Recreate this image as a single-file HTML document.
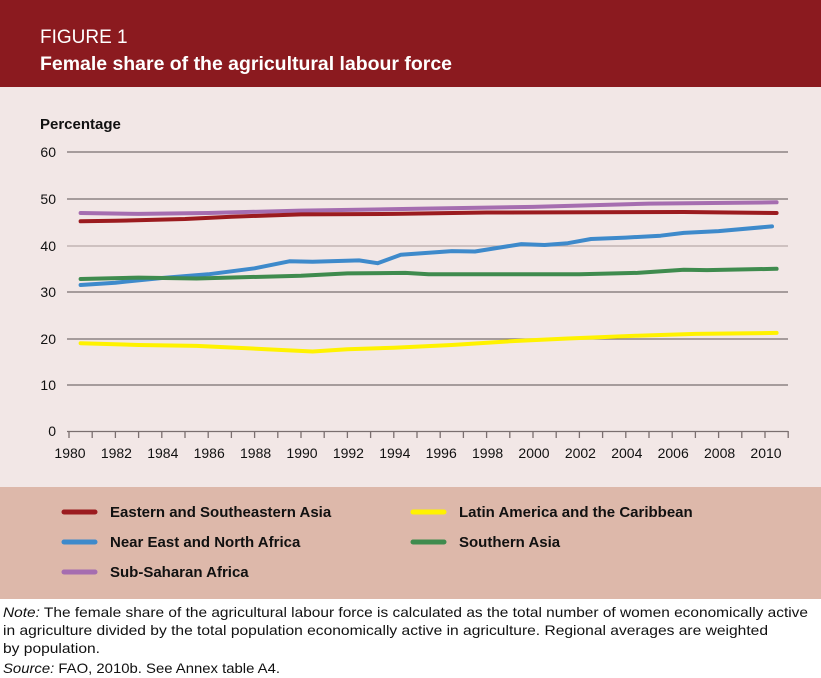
<!DOCTYPE html>
<html><head><meta charset="utf-8"><style>
html,body{margin:0;padding:0;background:#fff}
svg{display:block}
text{font-family:"Liberation Sans",sans-serif}
</style></head><body>
<svg width="821" height="678" viewBox="0 0 821 678" xmlns="http://www.w3.org/2000/svg">
<rect x="0" y="0" width="821" height="87" fill="#8B1A1F"/>
<rect x="0" y="87" width="821" height="400" fill="#F2E7E6"/>
<rect x="0" y="487" width="821" height="112" fill="#DDB8AA"/>
<text x="40" y="43" font-size="19" fill="#fff">FIGURE 1</text>
<text x="40" y="70" font-size="19" font-weight="bold" fill="#fff" textLength="412" lengthAdjust="spacingAndGlyphs">Female share of the agricultural labour force</text>
<text x="40" y="129" font-size="15" font-weight="bold" fill="#111">Percentage</text>
<g stroke="#7a6f6f" stroke-width="1.3">
<line x1="67" y1="152" x2="788" y2="152"/>
<line x1="67" y1="199" x2="788" y2="199"/>
<line x1="67" y1="246" x2="788" y2="246" stroke="#b8aaaa"/>
<line x1="67" y1="292" x2="788" y2="292"/>
<line x1="67" y1="339" x2="788" y2="339"/>
<line x1="67" y1="385" x2="788" y2="385"/>
<line x1="67" y1="431.5" x2="788" y2="431.5"/>
<path fill="none" d="M69 431v7m23.2-7v7m23.2-7v7m23.2-7v7m23.2-7v7m23.2-7v7m23.2-7v7m23.2-7v7m23.2-7v7m23.2-7v7m23.2-7v7m23.2-7v7m23.2-7v7m23.2-7v7m23.2-7v7m23.2-7v7m23.2-7v7m23.2-7v7m23.2-7v7m23.2-7v7m23.2-7v7m23.2-7v7m23.2-7v7m23.2-7v7m23.2-7v7m23.2-7v7m23.2-7v7m23.2-7v7m23.2-7v7m23.2-7v7m23.2-7v7m23.2-7v7"/>
</g>
<g font-size="14" fill="#111" text-anchor="end">
<text x="56" y="157">60</text><text x="56" y="204">50</text><text x="56" y="251">40</text>
<text x="56" y="297">30</text><text x="56" y="344">20</text><text x="56" y="390">10</text><text x="56" y="436">0</text>
</g>
<g font-size="14" fill="#111" text-anchor="middle">
<text x="70" y="458">1980</text><text x="116.4" y="458">1982</text><text x="162.8" y="458">1984</text><text x="209.2" y="458">1986</text>
<text x="255.6" y="458">1988</text><text x="302" y="458">1990</text><text x="348.4" y="458">1992</text><text x="394.8" y="458">1994</text>
<text x="441.2" y="458">1996</text><text x="487.6" y="458">1998</text><text x="534" y="458">2000</text><text x="580.4" y="458">2002</text>
<text x="626.8" y="458">2004</text><text x="673.2" y="458">2006</text><text x="719.6" y="458">2008</text><text x="766" y="458">2010</text>
</g>
<g fill="none" stroke-width="4" stroke-linejoin="round" stroke-linecap="round">
<polyline stroke="#A56DB0" points="80.6,213 138.6,213.9 208.2,213 301,210.6 417,208.8 533,206.9 649,203.6 776.6,202.3"/>
<polyline stroke="#9B1B1F" points="80.6,221.3 115.4,220.8 185,219 231.4,216.7 301,214.4 393.8,213.9 486.6,212.5 683.8,212 776.6,213"/>
<polyline stroke="#3E8ACB" points="80.6,285 115.4,282.7 161.8,278 208.2,274.3 254.6,268.3 289.4,261.3 312.6,261.8 359,260.4 377.6,263.2 400.8,254.8 451.8,251.1 475,251.5 521.4,244.1 544.6,245 567.8,243.2 591,239 625.8,237.6 660.6,235.7 683.8,232.9 718.6,231.1 772,226.4"/>
<polyline stroke="#3F8B4E" points="80.6,279 138.6,277.6 196.6,278.5 301,275.7 347.4,273.4 405.4,272.9 428.6,274.3 579.4,274.3 637.4,272.9 683.8,269.7 707,270.1 776.6,268.8"/>
<polyline stroke="#FFF200" points="80.6,343.2 138.6,345 196.6,345.9 266.2,349.2 312.6,351.5 347.4,349.2 393.8,347.8 451.8,345 509.8,341.3 567.8,338.5 637.4,335.7 695.4,333.9 776.6,332.9"/>
</g>
<g stroke-width="5" stroke-linecap="round">
<line x1="64" y1="512" x2="95" y2="512" stroke="#9B1B1F"/>
<line x1="64" y1="542" x2="95" y2="542" stroke="#3E8ACB"/>
<line x1="64" y1="572" x2="95" y2="572" stroke="#A56DB0"/>
<line x1="413" y1="512" x2="444" y2="512" stroke="#FFF200"/>
<line x1="413" y1="542" x2="444" y2="542" stroke="#3F8B4E"/>
</g>
<g font-size="15" font-weight="bold" fill="#111">
<text x="110" y="517">Eastern and Southeastern Asia</text>
<text x="110" y="547">Near East and North Africa</text>
<text x="110" y="577">Sub-Saharan Africa</text>
<text x="459" y="517">Latin America and the Caribbean</text>
<text x="459" y="547">Southern Asia</text>
</g>
<g font-size="14" fill="#111">
<text x="3" y="617" textLength="805" lengthAdjust="spacingAndGlyphs"><tspan font-style="italic">Note:</tspan> The female share of the agricultural labour force is calculated as the total number of women economically active</text>
<text x="3" y="635" textLength="765" lengthAdjust="spacingAndGlyphs">in agriculture divided by the total population economically active in agriculture. Regional averages are weighted</text>
<text x="3" y="653" textLength="97" lengthAdjust="spacingAndGlyphs">by population.</text>
<text x="3" y="673" textLength="277" lengthAdjust="spacingAndGlyphs"><tspan font-style="italic">Source:</tspan> FAO, 2010b. See Annex table A4.</text>
</g>
</svg>
</body></html>
